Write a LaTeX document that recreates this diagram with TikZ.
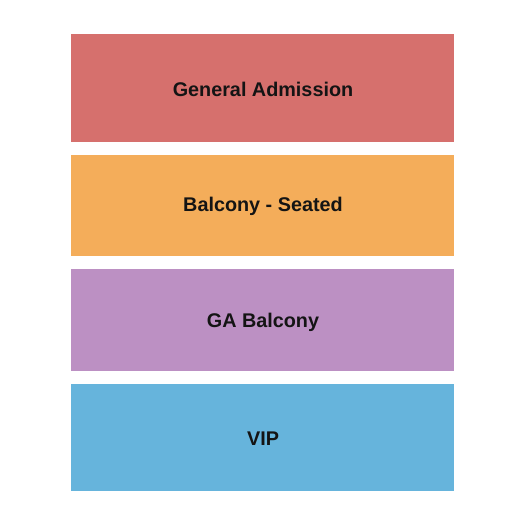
\documentclass[tikz,border=0pt]{standalone}
\usepackage{fontspec}
\setmainfont{Liberation Sans}
\definecolor{gared}{HTML}{D6706D}
\definecolor{balor}{HTML}{F4AD5A}
\definecolor{gapur}{HTML}{BC90C3}
\definecolor{vipbl}{HTML}{66B4DC}
\definecolor{txt}{HTML}{141414}
\tikzset{
  section/.style={fill=#1, draw=none},
  lbl/.style={font=\fontsize{19.8}{22}\selectfont\bfseries, text=txt, inner sep=0pt}
}
\begin{document}
\begin{tikzpicture}[x=1pt,y=1pt]
\useasboundingbox[fill=white] (0,0) rectangle (525,-525);
\fill[section=gared] (71,-34) rectangle (454,-142);
\fill[section=balor] (71,-155) rectangle (454,-256);
\fill[section=gapur] (71,-269) rectangle (454,-371);
\fill[section=vipbl] (71,-384) rectangle (454,-491);
\node[lbl] (ga) at (263,-89.5) {General Admission};
\node[lbl] (bs) at (263,-206) {Balcony - Seated};
\node[lbl] (gab) at (263,-322) {GA Balcony};
\node[lbl] (vip) at (263,-438.5) {VIP};
\end{tikzpicture}
\end{document}
